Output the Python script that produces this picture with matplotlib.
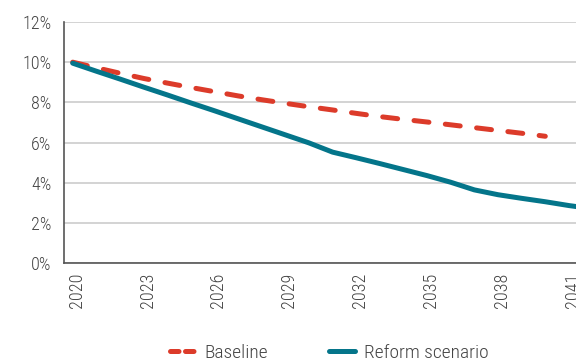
import matplotlib
matplotlib.use("Agg")
import matplotlib.pyplot as plt
from matplotlib.lines import Line2D
from matplotlib.transforms import ScaledTranslation
from matplotlib.ticker import FuncFormatter

# Series data (percent)
years = list(range(2020, 2043))
baseline = [10.0, 9.72, 9.45, 9.19, 8.96, 8.74, 8.53, 8.32, 8.13, 7.95, 7.78,
            7.62, 7.45, 7.29, 7.15, 7.02, 6.88, 6.74, 6.60, 6.46, 6.31]
reform = [9.95, 9.55, 9.16, 8.76, 8.37, 7.97, 7.58, 7.18, 6.78, 6.38, 5.98,
          5.52, 5.24, 4.95, 4.65, 4.35, 4.02, 3.64, 3.40, 3.22, 3.05, 2.86, 2.70]
tick_years = list(range(2020, 2042, 3))
y_ticks = [0, 2, 4, 6, 8, 10, 12]
series_labels = ["Baseline", "Reform scenario"]

RED = "#dc3b2a"
TEAL = "#04758a"
TEXT = "#444444"

plt.rcParams["font.family"] = ["Roboto Condensed", "Liberation Sans Narrow", "Roboto", "DejaVu Sans"]
plt.rcParams["font.weight"] = "light"

fig = plt.figure(figsize=(5.76, 3.62), dpi=100)
ax = fig.add_axes([64 / 576, (362 - 263) / 362, 1 - 64 / 576, (263 - 22) / 362])

ax.plot(years[:len(baseline)], baseline, color=RED, lw=3.6,
        linestyle=(0, (3.0, 3.3)), dash_capstyle="round", solid_capstyle="round", zorder=3)
ax.plot(years[:len(reform)], reform, color=TEAL, lw=3.6,
        solid_capstyle="round", solid_joinstyle="round", zorder=4)

ax.set_ylim(0, 12)
ax.set_xlim(2020 - 8.7 / 23.63, 2020 + (576 - 72.7) / 23.63)
ax.set_yticks(y_ticks)
ax.yaxis.set_major_formatter(FuncFormatter(lambda v, p: f"{v:g}%"))
ax.set_xticks(tick_years)
ax.set_xticklabels([str(y) for y in tick_years], rotation=90)

ax.grid(axis="y", color="#cccccc", lw=1.2)
ax.set_axisbelow(True)
for s in ["top", "right"]:
    ax.spines[s].set_visible(False)
for s in ["left", "bottom"]:
    ax.spines[s].set_color("#555555")
    ax.spines[s].set_linewidth(1.2)

ax.tick_params(axis="both", length=0, labelsize=13, colors=TEXT)
ax.tick_params(axis="y", pad=9)
ax.tick_params(axis="x", pad=7)

shift = ScaledTranslation(4 / 100, 0, fig.dpi_scale_trans)
for lab in ax.get_xticklabels():
    lab.set_transform(lab.get_transform() + shift)

handles = [
    Line2D([], [], color=RED, lw=3.6, linestyle=(0, (1.7, 1.3)), dash_capstyle="round"),
    Line2D([], [], color=TEAL, lw=3.6, solid_capstyle="round"),
]
leg = fig.legend(handles, series_labels, loc="center", ncol=2,
                 bbox_to_anchor=(329 / 576, 9 / 362), frameon=False,
                 fontsize=14, handlelength=1.35, handletextpad=0.45,
                 columnspacing=3.1, borderaxespad=0)
for t in leg.get_texts():
    t.set_color(TEXT)

fig.savefig("out.png", dpi=100)
